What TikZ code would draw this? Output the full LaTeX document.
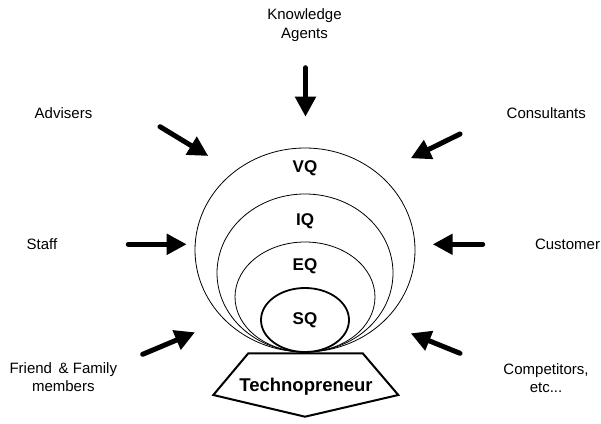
\documentclass[tikz,border=0pt]{standalone}
\usepackage{fontspec}
\setmainfont{Liberation Sans}
\usetikzlibrary{arrows.meta,shapes.geometric}
\begin{document}
\begin{tikzpicture}[x=1pt,y=1pt,
  source/.style={font=\fontsize{15}{18.3}\selectfont, align=center, inner sep=0pt},
  qlabel/.style={font=\fontsize{17}{20}\selectfont\bfseries, inner sep=0pt},
  ring/.style={draw, ellipse, line width=0.8pt, inner sep=0pt},
  push/.style={line width=5pt, line cap=round, -{Triangle[length=20pt,width=20pt]}}
]
\useasboundingbox (0,0) rectangle (601,423);

% nested quotient ellipses, all resting on the same point
\node[ring, minimum width=220pt, minimum height=204pt] (vq) at (305,173) {};
\node[ring, minimum width=176pt, minimum height=158pt] (iq) at (305,150) {};
\node[ring, minimum width=140pt, minimum height=110pt] (eq) at (305,126) {};
\node[ring, line width=1.8pt, minimum width=88pt, minimum height=64pt] (sq) at (305,103) {};

\node[qlabel] (vqt) at (305,255) {VQ};
\node[qlabel] (iqt) at (305,201.3) {IQ};
\node[qlabel] (eqt) at (305,156.3) {EQ};
\node[qlabel] (sqt) at (305,103) {SQ};

% base pentagon
\coordinate (p1) at (248.3,69.7);
\coordinate (p2) at (362.7,69.7);
\coordinate (p3) at (398.3,28);
\coordinate (p4) at (305,6.3);
\coordinate (p5) at (213.3,28);
\draw[line width=2pt, line join=miter] (p1) -- (p2) -- (p3) -- (p4) -- (p5) -- cycle;
\node[font=\fontsize{18.5}{22}\selectfont\bfseries, inner sep=0pt] (tech) at (306,36.3) {Technopreneur};

% influence sources
\node[source] (know) at (304.5,398) {Knowledge\\Agents};
\node[source] (adv) at (63.5,309.7) {Advisers};
\node[source] (cons) at (546.3,309.7) {Consultants};
\node[source] (staff) at (42,179) {Staff};
\node[source] (cust) at (567.5,179) {Customer};
\node[source] (fam) at (63.3,46.2) {Friend \,\& Family\\members};
\node[source] (comp) at (546,45.2) {Competitors,\\etc...};

% arrow ends
\coordinate (knowT) at (305.5,355.3); \coordinate (knowH) at (305.5,306.3);
\coordinate (advT) at (160,296.3);    \coordinate (advH) at (208.3,267);
\coordinate (consT) at (460,289);     \coordinate (consH) at (410.7,264.7);
\coordinate (staffT) at (128.3,178.7);\coordinate (staffH) at (186.7,178.7);
\coordinate (custT) at (482.7,178.7); \coordinate (custH) at (432.7,178.7);
\coordinate (famT) at (142.7,68.7);   \coordinate (famH) at (195,90.7);
\coordinate (compT) at (460,69.7);    \coordinate (compH) at (410.7,89.7);

\draw[push] (knowT) -- (knowH);
\draw[push] (advT) -- (advH);
\draw[push] (consT) -- (consH);
\draw[push] (staffT) -- (staffH);
\draw[push] (custT) -- (custH);
\draw[push] (famT) -- (famH);
\draw[push] (compT) -- (compH);
\end{tikzpicture}
\end{document}
